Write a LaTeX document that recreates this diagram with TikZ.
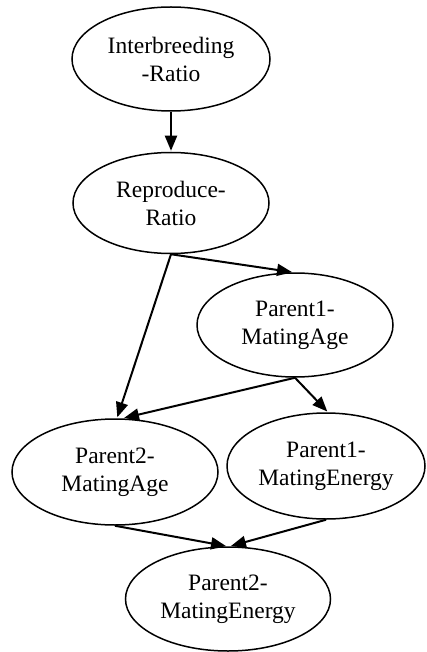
\documentclass[tikz,border=0pt]{standalone}
\usepackage{fontspec}
\setmainfont{Liberation Serif}
\usetikzlibrary{shapes.geometric,arrows.meta}
\tikzset{
  var/.style={ellipse, draw, line width=1.5pt, inner sep=0pt, align=center,
    font=\fontsize{23.5}{28}\selectfont},
  edge/.style={line width=2pt, -{Triangle[length=15pt,width=12pt]}, shorten >=1pt}
}
\begin{document}
\begin{tikzpicture}[x=1pt,y=-1pt]
\useasboundingbox (0,0) rectangle (426,652);
\node[var, minimum width=198pt, minimum height=104pt] (ib) at (171,59) {Interbreeding\\-Ratio};
\node[var, minimum width=196pt, minimum height=101pt] (rr) at (171,203) {Reproduce-\\Ratio};
\node[var, minimum width=196pt, minimum height=104pt] (p1a) at (295,325) {Parent1-\\MatingAge};
\node[var, minimum width=206pt, minimum height=106pt] (p2a) at (115,472) {Parent2-\\MatingAge};
\node[var, minimum width=198pt, minimum height=106pt] (p1e) at (326,466) {Parent1-\\MatingEnergy};
\node[var, minimum width=205pt, minimum height=104pt] (p2e) at (228,599) {Parent2-\\MatingEnergy};
\draw[edge] (ib.south) -- (rr.north);
\draw[edge] (rr.south) -- ([xshift=-2pt]p1a.north);
\draw[edge] (rr.south) -- ([xshift=2pt]p2a.north);
\draw[edge] (p1a.south) -- ([xshift=8pt]p2a.north);
\draw[edge] (p1a.south) -- ([xshift=2pt]p1e.north);
\draw[edge] (p2a.south) -- ([xshift=-1pt]p2e.north);
\draw[edge] (p1e.south) -- ([xshift=2pt]p2e.north);
\end{tikzpicture}
\end{document}
